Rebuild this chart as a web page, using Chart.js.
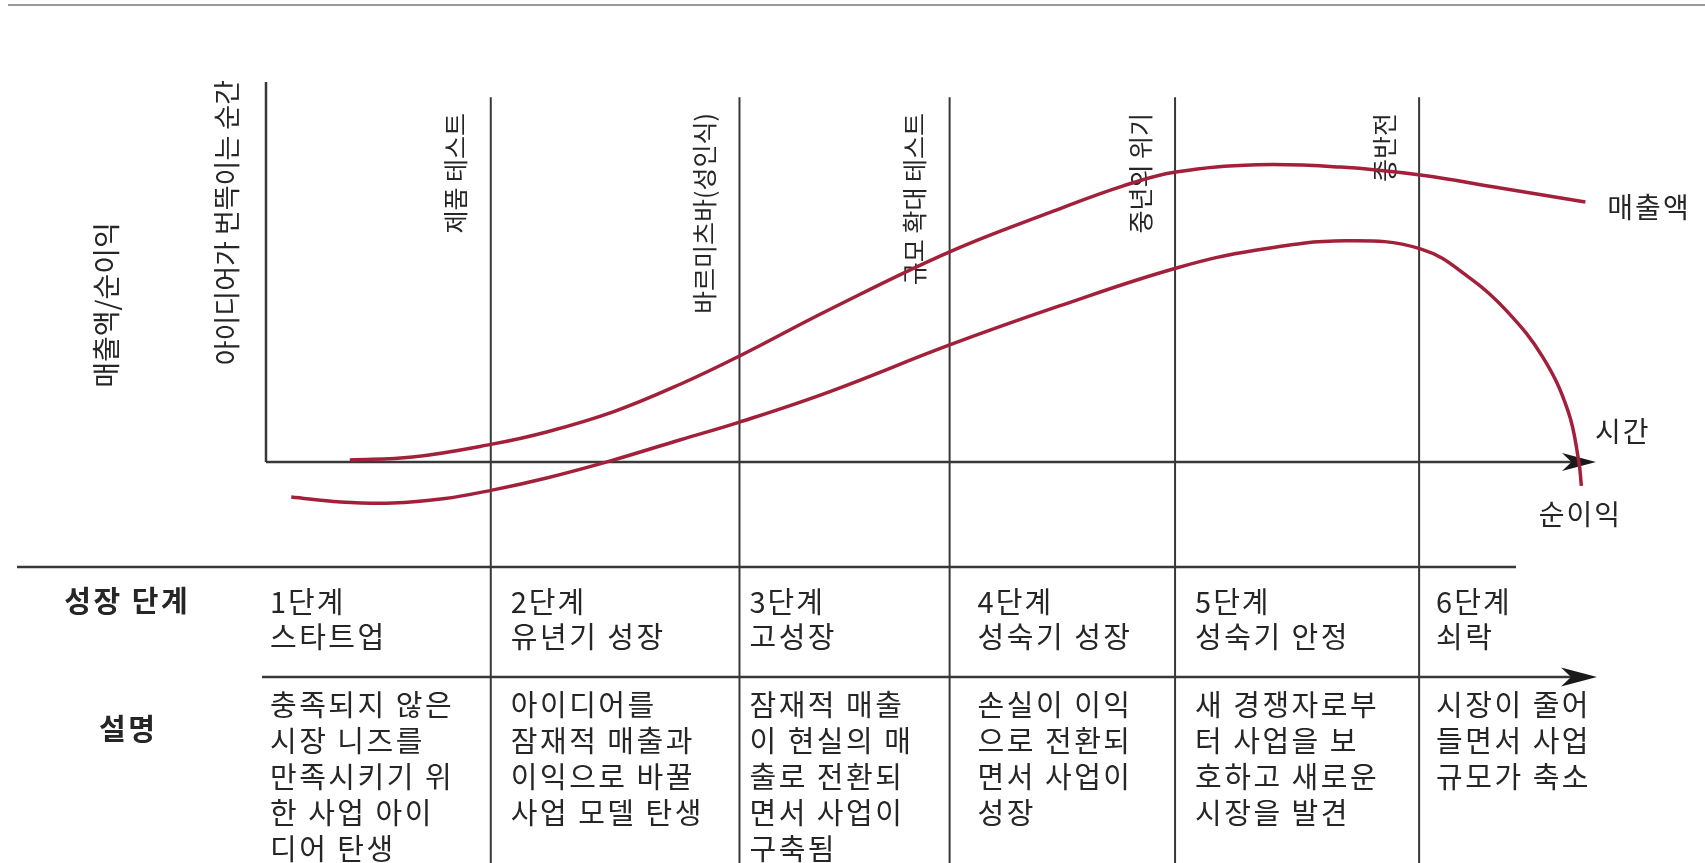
<!DOCTYPE html>
<html>
<head>
<meta charset="utf-8">
<script src="https://cdn.jsdelivr.net/npm/chart.js@4/dist/chart.umd.min.js"></script>
<style>
html,body{margin:0;padding:0;background:#ffffff;}
canvas{display:block;}
</style>
</head>
<body>
<canvas id="c" width="1705" height="863"></canvas>
<script>
// ---------------- DATA ----------------
const seriesNames = ['매출액', '순이익'];
const yAxisTitle = '매출액/순이익';
const xAxisTitle = '시간';
const startLabel = '아이디어가 번뜩이는 순간';

// time (0 = idea moment, 100 = end of time axis) / value (0 = zero line)
const salesTime  = [6.3, 11.0, 17.0, 21.1, 26.1, 31.1, 35.6, 42.3, 51.4, 59.2, 64.4, 68.4, 74.5, 80.8, 86.8, 92.8, 99.2];
const salesValue = [0.5, 1.3, 4.7, 7.9, 13.2, 20.4, 27.9, 40.0, 55.3, 66.0, 72.6, 76.3, 78.2, 77.6, 75.5, 72.1, 68.4];

const profitTime  = [1.9, 5.6, 9.5, 13.3, 17.0, 21.1, 25.9, 31.1, 35.6, 42.3, 51.4, 59.6, 68.4, 74.5, 81.2, 86.8, 90.6, 93.3, 96.0, 97.9, 98.7, 98.9];
const profitValue = [-9.2, -10.5, -10.8, -9.7, -7.4, -4.2, 0.3, 5.8, 10.5, 18.4, 30.8, 41.0, 51.0, 55.8, 58.2, 56.1, 48.2, 39.7, 27.6, 13.4, 0.3, -6.3];

const dividerTimes  = [16.9, 35.6, 51.4, 68.35, 86.7];
const dividerLabels = ['제품 테스트', '바르미츠바(성인식)', '규모 확대 테스트', '중년의 위기', '종반전'];

const rowHeaders   = ['성장 단계', '설명'];
const stageNumbers = ['1단계', '2단계', '3단계', '4단계', '5단계', '6단계'];
const stageNames   = ['스타트업', '유년기 성장', '고성장', '성숙기 성장', '성숙기 안정', '쇠락'];
const stageDescriptions = [
  ['충족되지 않은', '시장 니즈를', '만족시키기 위', '한 사업 아이', '디어 탄생'],
  ['아이디어를', '잠재적 매출과', '이익으로 바꿀', '사업 모델 탄생'],
  ['잠재적 매출', '이 현실의 매', '출로 전환되', '면서 사업이', '구축됨'],
  ['손실이 이익', '으로 전환되', '면서 사업이', '성장'],
  ['새 경쟁자로부', '터 사업을 보', '호하고 새로운', '시장을 발견'],
  ['시장이 줄어', '들면서 사업', '규모가 축소']
];

// ---------------- STYLE ----------------
const FONT = "'Noto Sans CJK KR','Noto Sans CJK SC','Noto Sans',sans-serif";
const INK = '#262626';
const LINE = '#383838';
const RED = '#a3203b';

function stealth(ctx, tipX, y, len, half) {
  ctx.beginPath();
  ctx.moveTo(tipX, y);
  ctx.lineTo(tipX - len, y - half);
  ctx.lineTo(tipX - len * 0.72, y);
  ctx.lineTo(tipX - len, y + half);
  ctx.closePath();
  ctx.fill();
}
function seg(ctx, x1, y1, x2, y2, w, color) {
  ctx.beginPath();
  ctx.lineWidth = w;
  ctx.strokeStyle = color;
  ctx.moveTo(x1, y1);
  ctx.lineTo(x2, y2);
  ctx.stroke();
}
function vText(ctx, text, x, y, size, align) {
  ctx.save();
  ctx.translate(x, y);
  ctx.rotate(-Math.PI / 2);
  ctx.font = `400 ${size}px ${FONT}`;
  ctx.fillStyle = INK;
  ctx.textAlign = align;
  ctx.textBaseline = 'middle';
  ctx.fillText(text, 0, 0);
  ctx.restore();
}
// horizontal text with explicit letter spacing (drawn glyph by glyph)
function hText(ctx, text, x, y, size, weight, align, spacing) {
  ctx.save();
  ctx.font = `${weight} ${size}px ${FONT}`;
  ctx.fillStyle = INK;
  ctx.textAlign = 'left';
  ctx.textBaseline = 'middle';
  const chars = Array.from(text);
  const widths = chars.map(c => ctx.measureText(c).width);
  const total = widths.reduce((a, b) => a + b, 0) + spacing * (chars.length - 1);
  let cx = x;
  if (align === 'center') cx = x - total / 2;
  else if (align === 'right') cx = x - total;
  chars.forEach((c, i) => {
    ctx.fillText(c, cx, y);
    cx += widths[i] + spacing;
  });
  ctx.restore();
}

const framePlugin = {
  id: 'frame',
  beforeDatasetsDraw(chart) {
    const ctx = chart.ctx;
    const xs = chart.scales.x, ys = chart.scales.y;
    const W = chart.width, H = chart.height;
    const x0 = xs.getPixelForValue(0), xEnd = xs.getPixelForValue(100);
    const yZero = ys.getPixelForValue(0), yTop = ys.getPixelForValue(100);

    ctx.save();
    // top separator
    seg(ctx, 8, 5, W, 5, 2, '#9a9a9a');

    // y axis
    seg(ctx, x0, yTop, x0, yZero, 2.5, LINE);
    // x axis with arrow
    seg(ctx, x0, yZero, xEnd - 20, yZero, 2.5, LINE);
    ctx.fillStyle = '#1a1a1a';
    stealth(ctx, xEnd, yZero, 34, 9);

    // dividers
    const divTop = ys.getPixelForValue(96);
    dividerTimes.forEach(t => {
      const px = xs.getPixelForValue(t);
      seg(ctx, px, divTop, px, H, 2, LINE);
    });

    // table lines
    const tableTop = 567, tableMid = 677;
    seg(ctx, 17, tableTop, 1516, tableTop, 2.5, LINE);
    seg(ctx, x0 - 4, tableMid, xEnd - 20, tableMid, 2.5, LINE);
    ctx.fillStyle = '#1a1a1a';
    stealth(ctx, xEnd + 1, tableMid, 36, 9.5);

    // axis texts
    vText(ctx, yAxisTitle, 106, 305, 28, 'center');
    vText(ctx, startLabel, x0 - 39, 80, 27, 'right');
    dividerTimes.forEach((t, i) => {
      const px = xs.getPixelForValue(t);
      vText(ctx, dividerLabels[i], px - 35, 113, 25, 'right');
    });

    // table texts
    hText(ctx, rowHeaders[0], 126, 601, 29, 700, 'center', 2.5);
    hText(ctx, rowHeaders[1], 127, 729, 29, 700, 'center', 2.5);
    const bounds = [0].concat(dividerTimes).map(t => xs.getPixelForValue(t));
    const pad = [4, 20, 10, 28, 20, 17];
    bounds.forEach((b, i) => {
      const tx = b + pad[i];
      hText(ctx, stageNumbers[i], tx, 602, 29, 400, 'left', 2);
      hText(ctx, stageNames[i], tx, 637, 29, 400, 'left', 2.5);
      stageDescriptions[i].forEach((line, k) => {
        hText(ctx, line, tx, 705 + k * 36, 29, 400, 'left', 2.5);
      });
    });

    // series end labels
    const sEndX = xs.getPixelForValue(salesTime[salesTime.length - 1]);
    const sEndY = ys.getPixelForValue(salesValue[salesValue.length - 1]);
    hText(ctx, seriesNames[0], sEndX + 22, sEndY + 5, 28, 400, 'left', 2);
    hText(ctx, xAxisTitle, xEnd - 1, yZero - 31, 28, 400, 'left', 2);
    const pEndX = xs.getPixelForValue(profitTime[profitTime.length - 1]);
    const pEndY = ys.getPixelForValue(profitValue[profitValue.length - 1]);
    hText(ctx, seriesNames[1], pEndX - 2, pEndY + 28, 28, 400, 'center', 2);
    ctx.restore();
  }
};

const toPts = (ts, vs) => ts.map((t, i) => ({ x: t, y: vs[i] }));

new Chart(document.getElementById('c'), {
  type: 'line',
  data: {
    datasets: [
      {
        label: seriesNames[0],
        data: toPts(salesTime, salesValue),
        borderColor: RED,
        borderWidth: 3.5,
        pointRadius: 0,
        tension: 0.4,
        fill: false,
        clip: false
      },
      {
        label: seriesNames[1],
        data: toPts(profitTime, profitValue),
        borderColor: RED,
        borderWidth: 3.5,
        pointRadius: 0,
        tension: 0.4,
        fill: false,
        clip: false
      }
    ]
  },
  options: {
    responsive: false,
    animation: false,
    devicePixelRatio: 1,
    layout: { padding: { left: 266, right: 109, top: 82, bottom: 344 } },
    scales: {
      x: { type: 'linear', min: 0, max: 100, display: false },
      y: { type: 'linear', min: -15, max: 100, display: false }
    },
    plugins: { legend: { display: false }, tooltip: { enabled: false } },
    events: []
  },
  plugins: [framePlugin]
});
</script>
</body>
</html>
